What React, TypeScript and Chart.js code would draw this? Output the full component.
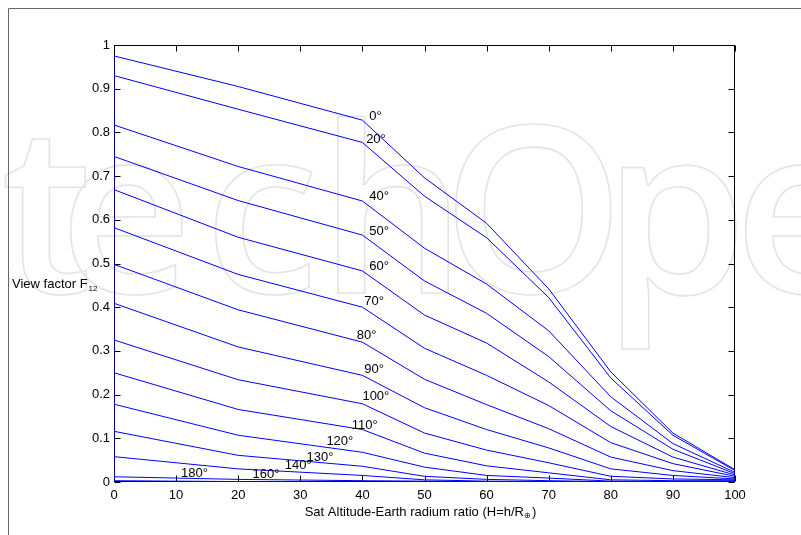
import React, { useEffect, useRef } from "react";
import { Chart, registerables } from "chart.js";

Chart.register(...registerables);

// Altitude ratio H (x axis)
const altitudes = [0, 20, 40, 50, 60, 70, 80, 90, 100];
// Curve names (angle)
const angleLabels = ["0°", "20°", "40°", "50°", "60°", "70°", "80°", "90°", "100°", "110°", "120°", "130°", "140°", "160°", "180°"];
// View factor values for each angle
const f0 = [0.975, 0.905, 0.828, 0.696, 0.592, 0.442, 0.252, 0.112, 0.028];
const f20 = [0.93, 0.853, 0.777, 0.654, 0.559, 0.422, 0.238, 0.107, 0.026];
const f40 = [0.817, 0.722, 0.643, 0.535, 0.453, 0.346, 0.195, 0.088, 0.022];
const f50 = [0.745, 0.644, 0.565, 0.46, 0.386, 0.287, 0.163, 0.075, 0.019];
const f60 = [0.669, 0.56, 0.483, 0.382, 0.318, 0.229, 0.127, 0.057, 0.016];
const f70 = [0.582, 0.475, 0.4, 0.306, 0.244, 0.175, 0.09, 0.042, 0.013];
const f80 = [0.498, 0.394, 0.32, 0.235, 0.177, 0.122, 0.057, 0.026, 0.01];
const f90 = [0.409, 0.309, 0.244, 0.17, 0.12, 0.078, 0.03, 0.015, 0.007];
const f100 = [0.325, 0.234, 0.179, 0.112, 0.073, 0.044, 0.013, 0.007, 0.005];
const f110 = [0.25, 0.166, 0.12, 0.066, 0.037, 0.021, 0.005, 0.003, 0.003];
const f120 = [0.178, 0.107, 0.068, 0.034, 0.015, 0.009, 0.002, 0.001, 0.001];
const f130 = [0.116, 0.061, 0.036, 0.013, 0.006, 0.003, 0.001, 0, 0];
const f140 = [0.058, 0.03, 0.015, 0.005, 0.002, 0.001, 0, 0, 0];
const f160 = [0.012, 0.006, 0.003, 0.002, 0.001, 0, 0, 0, 0];
const f180 = [0.003, 0.001, 0, 0, 0, 0, 0, 0, 0];
// vertical segment along H = 0
const edgeX = [0, 0];
const edgeY = [0, 0.975];
// curve label anchor positions (data coords)
const labelX = [41.1, 40.6, 41.1, 41.1, 41.1, 40.3, 39.1, 40.3, 40.0, 38.3, 34.2, 31.0, 27.5, 22.3, 10.8];
const labelY = [0.836, 0.784, 0.653, 0.573, 0.493, 0.413, 0.336, 0.257, 0.195, 0.13, 0.094, 0.057, 0.038, 0.017, 0.02];
// axis ticks
const xTicks = [0, 10, 20, 30, 40, 50, 60, 70, 80, 90, 100];
const yTicks = [0, 0.1, 0.2, 0.3, 0.4, 0.5, 0.6, 0.7, 0.8, 0.9, 1];
// background watermark letters
const wmLetters = ["t", "e", "c", "h", "O", "p", "e"];
const wmLeft = [5, 70, 215, 338, 455, 622, 745];

const FONT = "'Liberation Sans', Arial, Helvetica, sans-serif";

function drawSub(ctx: CanvasRenderingContext2D, main: string, sub: string, x: number, y: number, size: number) {
  ctx.font = `${size}px ${FONT}`;
  ctx.textBaseline = "middle";
  ctx.textAlign = "left";
  ctx.fillText(main, x, y);
  const w = ctx.measureText(main).width;
  ctx.font = `${Math.round(size * 0.6)}px ${FONT}`;
  ctx.fillText(sub, x + w + 1, y + 4);
}

const framePlugin = {
  id: "frame",
  beforeDraw(chart: any) {
    const ctx: CanvasRenderingContext2D = chart.ctx;
    ctx.save();
    ctx.fillStyle = "#fff";
    ctx.fillRect(0, 0, chart.width, chart.height);
    // watermark
    ctx.font = `600 232px 'Open Sans', sans-serif`;
    ctx.textBaseline = "alphabetic";
    ctx.textAlign = "left";
    ctx.strokeStyle = "#e4e4e4";
    ctx.lineWidth = 1.6;
    wmLetters.forEach((ch, i) => {
      const m = ctx.measureText(ch);
      ctx.strokeText(ch, wmLeft[i] + m.actualBoundingBoxLeft, 293);
    });
    // outer frame
    ctx.strokeStyle = "#666";
    ctx.lineWidth = 1;
    ctx.beginPath();
    ctx.moveTo(8.5, chart.height);
    ctx.lineTo(8.5, 8.5);
    ctx.lineTo(chart.width, 8.5);
    ctx.stroke();
    ctx.restore();
  },
  beforeDatasetsDraw(chart: any) {
    const ctx: CanvasRenderingContext2D = chart.ctx;
    const { left, right, top, bottom } = chart.chartArea;
    const xs = chart.scales.x;
    const ys = chart.scales.y;
    const L = Math.round(left) + 0.5;
    const R = Math.round(right) - 0.5;
    const T = Math.round(top) + 0.5;
    const B = Math.round(bottom) - 0.5;
    ctx.save();
    ctx.strokeStyle = "#000";
    ctx.lineWidth = 1;
    ctx.strokeRect(L, T, R - L, B - T);
    const tl = 6;
    ctx.beginPath();
    xTicks.forEach((v) => {
      const px = Math.round(xs.getPixelForValue(v)) + 0.5;
      ctx.moveTo(px, B);
      ctx.lineTo(px, B - tl);
      ctx.moveTo(px, T);
      ctx.lineTo(px, T + tl);
    });
    yTicks.forEach((v) => {
      const py = Math.round(ys.getPixelForValue(v)) + 0.5;
      ctx.moveTo(L, py);
      ctx.lineTo(L + tl, py);
      ctx.moveTo(R, py);
      ctx.lineTo(R - tl, py);
    });
    ctx.stroke();
    ctx.restore();
  },
  afterDatasetsDraw(chart: any) {
    const ctx: CanvasRenderingContext2D = chart.ctx;
    const xs = chart.scales.x;
    const ys = chart.scales.y;
    const { left, right, bottom } = chart.chartArea;
    ctx.save();
    ctx.fillStyle = "#000";
    ctx.font = `13px ${FONT}`;
    ctx.textBaseline = "middle";
    ctx.textAlign = "left";
    angleLabels.forEach((lab, i) => {
      ctx.fillText(lab, xs.getPixelForValue(labelX[i]), ys.getPixelForValue(labelY[i]));
    });
    // y title
    drawSub(ctx, "View factor F", "12", left - 102, ys.getPixelForValue(0.451), 13);
    // x title
    ctx.font = `13px ${FONT}`;
    const mainX = "Sat Altitude-Earth radium ratio (H=h/R";
    const w1 = ctx.measureText(mainX).width;
    ctx.font = `8px ${FONT}`;
    const w2 = ctx.measureText("⊕").width;
    ctx.font = `13px ${FONT}`;
    const w3 = ctx.measureText(")").width;
    const total = w1 + w2 + 1 + w3;
    const sx = (left + right) / 2 - total / 2 - 4;
    const ty = bottom + 30;
    ctx.fillText(mainX, sx, ty);
    ctx.font = `8px ${FONT}`;
    ctx.fillText("⊕", sx + w1 + 0.5, ty + 4);
    ctx.font = `13px ${FONT}`;
    ctx.fillText(")", sx + w1 + w2 + 1, ty);
    ctx.restore();
  },
};

export default function App() {
  const ref = useRef<HTMLCanvasElement>(null);
  useEffect(() => {
    const series = [f0, f20, f40, f50, f60, f70, f80, f90, f100, f110, f120, f130, f140, f160, f180];
    const datasets: any[] = series.map((vals, i) => ({
      label: angleLabels[i],
      data: altitudes.map((a, j) => ({ x: a, y: vals[j] })),
      borderColor: "#0000ff",
      borderWidth: 1,
      pointRadius: 0,
      fill: false,
      tension: 0,
    }));
    datasets.push({
      label: "edge",
      data: edgeX.map((x, i) => ({ x, y: edgeY[i] })),
      borderColor: "#0000ff",
      borderWidth: 1,
      pointRadius: 0,
      fill: false,
    });
    const chart = new Chart(ref.current as HTMLCanvasElement, {
      type: "line",
      data: { datasets },
      options: {
        responsive: false,
        animation: false,
        devicePixelRatio: 1,
        layout: { padding: { top: 45, right: 66, left: 0, bottom: 0 } },
        plugins: { legend: { display: false }, tooltip: { enabled: false } },
        scales: {
          x: {
            type: "linear",
            min: 0,
            max: 100,
            grid: { display: false, drawTicks: false },
            border: { display: false },
            ticks: { stepSize: 10, padding: 6, color: "#000", maxRotation: 0, font: { family: FONT, size: 13 } },
            afterFit: (s: any) => {
              s.height = 53;
            },
          },
          y: {
            type: "linear",
            min: 0,
            max: 1,
            grid: { display: false, drawTicks: false },
            border: { display: false },
            ticks: {
              stepSize: 0.1,
              padding: 4,
              color: "#000",
              font: { family: FONT, size: 13 },
              callback: (v: any) => String(Math.round(Number(v) * 10) / 10),
            },
            afterFit: (s: any) => {
              s.width = 114;
            },
          },
        },
      } as any,
      plugins: [framePlugin],
    });
    return () => chart.destroy();
  }, []);
  return (
    <div style={{ position: "fixed", left: 0, top: 0, width: 801, height: 535, background: "#fff" }}>
      <canvas ref={ref} width={801} height={535} style={{ display: "block", width: 801, height: 535 }} />
    </div>
  );
}
